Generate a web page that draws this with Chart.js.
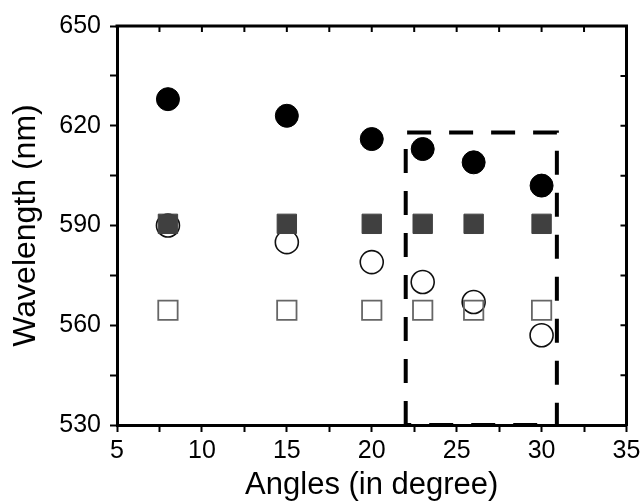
<!DOCTYPE html>
<html lang="en">
<head>
    <meta charset="UTF-8">
    <title>Wavelength vs Angle</title>
    <style>
        html, body { margin: 0; padding: 0; background: #fff; overflow: hidden; }
        canvas { display: block; }
    </style>
    <script src="https://cdn.jsdelivr.net/npm/chart.js"></script>
</head>
<body>
    <canvas id="wave-chart" width="642" height="501"></canvas>
    <script>
        // data
        const angles = [8, 15, 20, 23, 26, 30];
        const filledCircle = [628, 623, 616, 613, 609, 602];
        const filledSquare = [590.5, 590.5, 590.5, 590.5, 590.5, 590.5];
        const openCircle = [590, 585, 579, 573, 567, 557];
        const openSquare = [564.5, 564.5, 564.5, 564.5, 564.5, 564.5];
        // dashed box corners
        const boxX = [22, 22, 30.9, 30.9, 22];
        const boxY = [530, 618, 618, 530, 530];

        const xTitle = 'Angles (in degree)';
        const yTitle = 'Wavelength (nm)';

        const pts = (xs, ys) => xs.map((v, i) => ({ x: v, y: ys[i] }));
        const fontFamily = '"Liberation Sans", Arial, sans-serif';

        // top and right axis lines with inward ticks
        const frameTicks = {
            id: 'frameTicks',
            afterDraw(chart) {
                const { ctx, chartArea: a, scales: { x, y } } = chart;
                ctx.save();
                ctx.strokeStyle = '#000';
                ctx.lineWidth = 3;
                ctx.beginPath();
                ctx.moveTo(a.left - 1.5, a.top);
                ctx.lineTo(a.right, a.top);
                ctx.lineTo(a.right, a.bottom + 1.5);
                ctx.stroke();
                ctx.lineWidth = 2;
                ctx.beginPath();
                x.ticks.forEach(t => {
                    const px = x.getPixelForValue(t.value);
                    if (px > a.left + 1 && px < a.right - 1) {
                        ctx.moveTo(px, a.top);
                        ctx.lineTo(px, a.top + 6);
                    }
                });
                y.ticks.forEach(t => {
                    const py = y.getPixelForValue(t.value);
                    if (py > a.top + 1 && py < a.bottom - 1) {
                        ctx.moveTo(a.right, py);
                        ctx.lineTo(a.right - 6, py);
                    }
                });
                ctx.stroke();
                ctx.restore();
            }
        };

        const ctx = document.getElementById('wave-chart').getContext('2d');
        new Chart(ctx, {
            type: 'scatter',
            data: {
                datasets: [
                    {
                        label: 'box',
                        data: pts(boxX, boxY),
                        showLine: true,
                        borderColor: '#000',
                        borderWidth: 4,
                        borderDash: [24, 18],
                        pointRadius: 0,
                        fill: false,
                        clip: 10,
                        order: 0
                    },
                    {
                        label: 'filled circle',
                        data: pts(angles, filledCircle),
                        pointStyle: 'circle',
                        pointRadius: 11.5,
                        backgroundColor: '#000',
                        borderColor: '#000',
                        borderWidth: 1,
                        order: 1
                    },
                    {
                        label: 'filled square',
                        data: pts(angles, filledSquare),
                        pointStyle: 'rect',
                        pointRadius: 13.7,
                        backgroundColor: '#404040',
                        borderColor: '#404040',
                        borderWidth: 1,
                        order: 2
                    },
                    {
                        label: 'open square',
                        data: pts(angles, openSquare),
                        pointStyle: 'rect',
                        pointRadius: 13.7,
                        backgroundColor: 'rgba(255,255,255,0)',
                        borderColor: '#666',
                        borderWidth: 1.8,
                        order: 3
                    },
                    {
                        label: 'open circle',
                        data: pts(angles, openCircle),
                        pointStyle: 'circle',
                        pointRadius: 11.5,
                        backgroundColor: '#fff',
                        borderColor: '#111',
                        borderWidth: 1.6,
                        order: 4
                    }
                ]
            },
            options: {
                responsive: false,
                animation: false,
                events: [],
                layout: { padding: { top: 26, right: 15, left: 0, bottom: 0 } },
                plugins: {
                    legend: { display: false },
                    tooltip: { enabled: false }
                },
                scales: {
                    x: {
                        type: 'linear',
                        min: 5,
                        max: 35,
                        ticks: {
                            stepSize: 2.5,
                            autoSkip: false,
                            maxRotation: 0,
                            color: '#000',
                            padding: 4,
                            font: { family: fontFamily, size: 25 },
                            callback: v => (v % 5 === 0 ? v : '')
                        },
                        grid: {
                            drawOnChartArea: false,
                            tickLength: 7,
                            tickWidth: 2,
                            tickColor: '#000'
                        },
                        border: { color: '#000', width: 3 },
                        title: {
                            display: true,
                            text: xTitle,
                            color: '#000',
                            font: { family: fontFamily, size: 31 },
                            padding: { top: 0, bottom: -3 }
                        },
                        afterFit: s => { s.height = 76; s.paddingLeft = 0; s.paddingRight = 0; }
                    },
                    y: {
                        type: 'linear',
                        min: 530,
                        max: 650,
                        ticks: {
                            stepSize: 15,
                            autoSkip: false,
                            color: '#000',
                            padding: 9,
                            font: { family: fontFamily, size: 25 },
                            callback: v => ((v - 530) % 30 === 0 ? v : '')
                        },
                        grid: {
                            drawOnChartArea: false,
                            tickLength: 7,
                            tickWidth: 2,
                            tickColor: '#000'
                        },
                        border: { color: '#000', width: 3 },
                        title: {
                            display: true,
                            text: yTitle,
                            color: '#000',
                            font: { family: fontFamily, size: 32 },
                            padding: { top: 7, bottom: 0 }
                        },
                        afterFit: s => { s.width = 117; s.paddingTop = 0; s.paddingBottom = 0; }
                    }
                }
            },
            plugins: [frameTicks]
        });
    </script>
</body>
</html>
